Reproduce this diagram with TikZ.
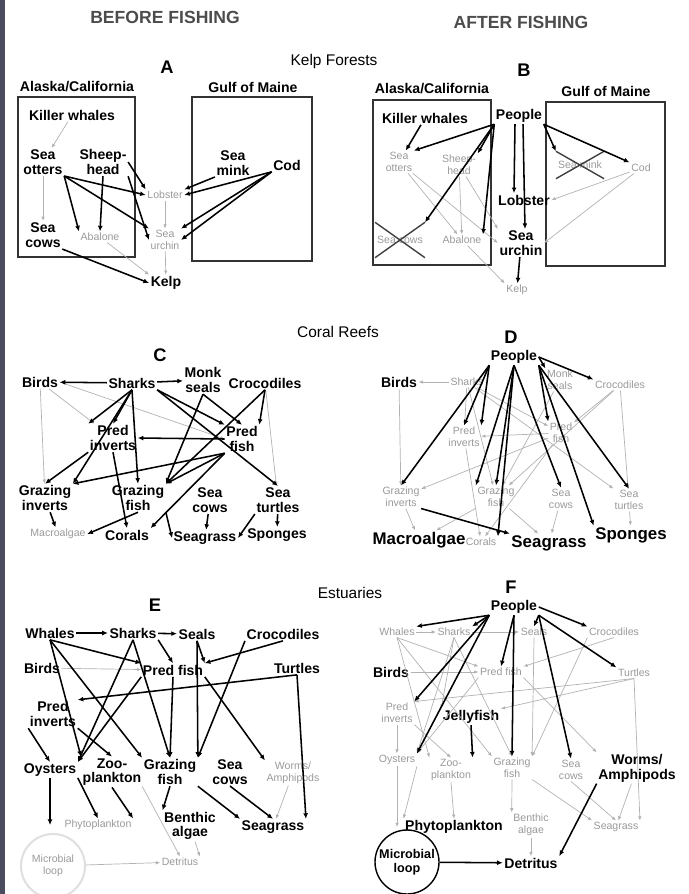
\documentclass[tikz,border=0pt]{standalone}
\usepackage{fontspec}
\setmainfont{Liberation Sans}
\usetikzlibrary{arrows.meta,shapes.misc}
\definecolor{sidebar}{RGB}{75,77,94}

\begin{document}
\begin{tikzpicture}[
    x=0.25mm, y=-0.25mm,
    sp/.style={font=\bfseries\fontsize{10}{10.5}\selectfont, align=center, inner sep=1pt},
    ghost/.style={font=\fontsize{7.5}{8.5}\selectfont, text=black!40, align=center, inner sep=1pt},
    big/.style={font=\bfseries\fontsize{12}{13}\selectfont, inner sep=1pt},
    heading/.style={font=\bfseries\fontsize{12.5}{13}\selectfont, text=black!70},
    habitat/.style={font=\fontsize{11}{12}\selectfont},
    panel/.style={font=\bfseries\fontsize{13}{14}\selectfont},
    region/.style={draw, line width=1pt, black!80},
    gone/.style={ghost, cross out, draw=black!75, line width=1pt},
    feed/.style={-{Latex[length=4pt,width=3.5pt]}, line width=1.1pt},
    weak/.style={-{Latex[length=3pt,width=2.5pt]}, line width=0.5pt, black!30}
]
\useasboundingbox (0,0) rectangle (688,894);
\fill[sidebar] (0,0) rectangle (5,894);

\node[heading] (before) at (165,17) {BEFORE FISHING};
\node[heading] (after) at (521,22) {AFTER FISHING};

% Kelp forests
\node[habitat] (kelpforests) at (334,62) {Kelp Forests};
\node[panel] (labelA) at (167,67) {A};
\node[panel] (labelB) at (524,70) {B};

\node[sp] (akA) at (77,87) {Alaska/California};
\node[sp] (gmA) at (253,87) {Gulf of Maine};
\draw[region] (18,97) rectangle (135,257);
\draw[region] (192,97) rectangle (312,261);

\node[sp] (whaleA) at (72,115) {Killer whales};
\node[sp] (otterA) at (43,162) {Sea\\otters};
\node[sp] (sheepA) at (103,162) {Sheep-\\head};
\node[sp] (minkA) at (233,163) {Sea\\mink};
\node[sp] (codA) at (287,165) {Cod};
\node[ghost] (lobsterA) at (165,195) {Lobster};
\node[ghost] (abaloneA) at (100,237) {Abalone};
\node[ghost] (urchinA) at (165,240) {Sea\\urchin};
\node[sp] (cowA) at (43,235) {Sea\\cows};
\node[sp] (kelpA) at (166,283) {Kelp};

\draw[weak] (whaleA) -- (otterA);
\draw[weak] (otterA) -- (cowA);
\draw[feed] (otterA.south east) -- (abaloneA.north west);
\draw[feed] (otterA.south east) -- (lobsterA.west);
\draw[feed] (otterA.south east) -- (urchinA.north west);
\draw[feed] (sheepA.south) -- (abaloneA.north);
\draw[feed] (sheepA.south east) -- (urchinA.west);
\draw[feed] (sheepA.east) -- (lobsterA.north west);
\draw[feed] (minkA.south west) -- (lobsterA.north east);
\draw[feed] (codA.south west) -- (lobsterA.east);
\draw[feed] (codA.south west) -- (urchinA.north east);
\draw[feed] (codA.south west) -- (urchinA.east);
\draw[weak] (lobsterA) -- (urchinA);
\draw[weak] (abaloneA) -- (kelpA.north west);
\draw[weak] (urchinA) -- (kelpA);
\draw[feed] (cowA.south east) -- (kelpA.west);

\node[sp] (akB) at (432,89) {Alaska/California};
\node[sp] (gmB) at (606,91) {Gulf of Maine};
\draw[region] (373,100) rectangle (491,265);
\draw[region] (546,102) rectangle (665,266);

\node[sp] (whaleB) at (425,118) {Killer whales};
\node[sp] (peopleB) at (519,116) {People};
\node[ghost] (otterB) at (399,162) {Sea\\otters};
\node[ghost] (sheepB) at (459,165) {Sheep-\\head};
\node[gone, minimum width=10.5mm, minimum height=6.5mm] (minkB) at (580,165) {Sea mink};
\node[ghost] (codB) at (641,168) {Cod};
\node[sp] (lobsterB) at (524,200) {Lobster};
\node[gone, minimum width=10.5mm, minimum height=8.5mm] (cowB) at (400,240) {Sea cows};
\node[ghost] (abaloneB) at (462,240) {Abalone};
\node[sp] (urchinB) at (521,243) {Sea\\urchin};
\node[ghost] (kelpB) at (517,290) {Kelp};

\draw[weak] (otterB) -- (urchinB.west);
\draw[weak] (otterB) -- (abaloneB);
\draw[weak] (sheepB) -- (abaloneB);
\draw[weak] (sheepB) -- (urchinB.north west);
\draw[weak] (codB) -- (lobsterB.east);
\draw[weak] (codB) -- (urchinB.east);
\draw[weak] (abaloneB) -- (kelpB.north west);
\draw[feed] (whaleB) -- (otterB);
\draw[feed] (peopleB.south west) -- (otterB.north east);
\draw[feed] (peopleB.south west) -- (sheepB.north east);
\draw[feed] (peopleB.south west) -- (cowB.north east);
\draw[feed] (peopleB.south west) -- (abaloneB.north east);
\draw[feed] ([xshift=-1mm]peopleB.south) -- ([xshift=-2.5mm]lobsterB.north);
\draw[feed] ([xshift=1mm]peopleB.south) -- ([xshift=1mm]urchinB.north);
\draw[feed] (peopleB.south east) -- (minkB.north west);
\draw[feed] (peopleB.south east) -- (codB.north west);
\draw[feed] (urchinB) -- (kelpB);

% Coral reefs
\node[habitat] (coralreefs) at (338,332) {Coral Reefs};
\node[panel] (labelC) at (160,355) {C};
\node[panel] (labelD) at (511,337) {D};

\node[sp] (birdC) at (40,382) {Birds};
\node[sp] (sharkC) at (132,383) {Sharks};
\node[sp] (sealC) at (203,380) {Monk\\seals};
\node[sp] (crocC) at (265,383) {Crocodiles};
\node[sp] (predinvC) at (113,438) {Pred\\inverts};
\node[sp] (predfishC) at (242,439) {Pred\\fish};
\node[sp] (grazinvC) at (45,498) {Grazing\\inverts};
\node[sp] (grazfishC) at (138,498) {Grazing\\fish};
\node[sp] (cowC) at (210,500) {Sea\\cows};
\node[sp] (turtleC) at (278,500) {Sea\\turtles};
\node[ghost] (macroC) at (58,534) {Macroalgae};
\node[sp] (coralC) at (127,535) {Corals};
\node[sp] (seagrassC) at (205,538) {Seagrass};
\node[sp] (spongeC) at (277,535) {Sponges};

\draw[weak] (birdC) -- (grazinvC);
\draw[weak] (birdC) -- (predinvC);
\draw[weak] (crocC) -- (turtleC);
\draw[weak] (birdC.east) -- (predfishC.west);
\draw[feed] (sharkC) -- (birdC);
\draw[feed] (sharkC) -- (sealC);
\draw[feed] (sharkC.south) -- (predinvC.north west);
\draw[feed] (sharkC.south) -- (predinvC.north);
\draw[feed] (sharkC.south) -- (grazinvC.north east);
\draw[feed] (sharkC.south) -- (grazfishC.north);
\draw[feed] (sharkC.south east) -- (predfishC.north west);
\draw[feed] (sharkC.south east) -- (turtleC.north);
\draw[feed] (sealC.south) -- (grazfishC.north east);
\draw[feed] (sealC.south) -- (predfishC.north);
\draw[feed] (crocC.south) -- (predfishC.north east);
\draw[feed] (crocC.south) -- (grazfishC.north east);
\draw[feed] (predfishC.west) -- (predinvC.east);
\draw[feed] (predfishC.south west) -- (grazinvC.north east);
\draw[feed] (predfishC.south west) -- (grazfishC.north east);
\draw[feed] (predfishC.south west) -- (coralC.north east);
\draw[feed] (predinvC.south) -- (coralC.north);
\draw[feed] (predinvC.south west) -- (grazinvC.north);
\draw[feed] (grazinvC) -- (macroC);
\draw[feed] (grazfishC.south) -- (macroC.east);
\draw[feed] (grazfishC.south east) -- (seagrassC.west);
\draw[feed] (cowC) -- (seagrassC);
\draw[feed] (turtleC.south west) -- (seagrassC.east);
\draw[feed] (turtleC) -- (spongeC);

\node[sp] (peopleD) at (514,357) {People};
\node[sp] (birdD) at (399,382) {Birds};
\node[ghost] (sharkD) at (467,382) {Sharks};
\node[ghost] (sealD) at (560,380) {Monk\\seals};
\node[ghost] (crocD) at (620,385) {Crocodiles};
\node[ghost] (predinvD) at (464,437) {Pred\\inverts};
\node[ghost] (predfishD) at (561,433) {Pred\\fish};
\node[ghost] (grazinvD) at (401,497) {Grazing\\inverts};
\node[ghost] (grazfishD) at (496,497) {Grazing\\fish};
\node[ghost] (cowD) at (561,499) {Sea\\cows};
\node[ghost] (turtleD) at (629,500) {Sea\\turtles};
\node[big] (macroD) at (419,540) {Macroalgae};
\node[ghost] (coralD) at (481,542) {Corals};
\node[big] (seagrassD) at (549,543) {Seagrass};
\node[big] (spongeD) at (631,535) {Sponges};

\draw[weak] (sharkD) -- (birdD);
\draw[weak] (birdD) -- (grazinvD);
\draw[weak] (sharkD) -- (predinvD);
\draw[weak] (sharkD) -- (grazfishD);
\draw[weak] (sharkD) -- (predfishD);
\draw[weak] (sharkD) -- (turtleD);
\draw[weak] (sealD) -- (grazfishD);
\draw[weak] (crocD) -- (predfishD);
\draw[weak] (crocD) -- (grazfishD);
\draw[weak] (crocD) -- (turtleD);
\draw[weak] (predfishD) -- (predinvD);
\draw[weak] (predfishD) -- (grazinvD);
\draw[weak] (predfishD) -- (coralD);
\draw[weak] (predinvD) -- (coralD);
\draw[weak] (grazinvD) -- (macroD);
\draw[weak] (grazfishD) -- (macroD);
\draw[weak] (grazfishD) -- (seagrassD);
\draw[weak] (cowD) -- (seagrassD);
\draw[weak] (turtleD) -- (spongeD);
\draw[feed] (peopleD.south west) -- (grazinvD.north);
\draw[feed] (peopleD.south west) -- (predinvD.north);
\draw[feed] (peopleD.south west) -- (predinvD.north east);
\draw[feed] (peopleD.south) -- (grazfishD.north west);
\draw[feed] (peopleD.south) -- (grazfishD.north);
\draw[feed] (peopleD.south) -- (coralD.north east);
\draw[feed] (peopleD.south) -- (cowD.north);
\draw[feed] (peopleD.south east) -- (predfishD.north west);
\draw[feed] (peopleD.south east) -- (turtleD.north);
\draw[feed] (peopleD.south east) -- (spongeD.north west);
\draw[feed] (peopleD.east) -- (sealD.north west);
\draw[feed] (peopleD.east) -- (crocD.north west);
\draw[feed] (grazinvD.south east) -- (seagrassD.north west);

% Estuaries
\node[habitat] (estuaries) at (350,593) {Estuaries};
\node[panel] (labelE) at (155,605) {E};
\node[panel] (labelF) at (511,587) {F};

\node[sp] (whaleE) at (50,633) {Whales};
\node[sp] (sharkE) at (133,633) {Sharks};
\node[sp] (sealE) at (197,634) {Seals};
\node[sp] (crocE) at (283,634) {Crocodiles};
\node[sp] (birdE) at (42,668) {Birds};
\node[sp] (predfishE) at (173,670) {Pred fish};
\node[sp] (turtleE) at (297,668) {Turtles};
\node[sp] (predinvE) at (53,714) {Pred\\inverts};
\node[sp] (oysterE) at (50,770) {Oysters};
\node[sp] (zooE) at (112,772) {Zoo-\\plankton};
\node[sp] (grazfishE) at (170,772) {Grazing\\fish};
\node[sp] (cowE) at (230,772) {Sea\\cows};
\node[ghost] (wormE) at (293,773) {Worms/\\Amphipods};
\node[ghost] (phytoE) at (98,825) {Phytoplankton};
\node[sp] (benthicE) at (190,826) {Benthic\\algae};
\node[sp] (seagrassE) at (273,827) {Seagrass};
\node[ghost, circle, draw=black!12, line width=1.5pt, inner sep=0pt, minimum size=16mm] (microE) at (53,866) {Microbial\\loop};
\node[ghost] (detritusE) at (180,862) {Detritus};

\draw[weak] (birdE) -- (predfishE);
\draw[weak] (wormE) -- (seagrassE);
\draw[weak] (benthicE) -- (detritusE.north east);
\draw[weak] (grazfishE.south west) -- (detritusE.north);
\draw[weak] (microE) -- (detritusE);
\draw[feed] (whaleE) -- (sharkE);
\draw[feed] (sharkE) -- (sealE);
\draw[feed] (whaleE.south) -- (predfishE.north west);
\draw[feed] (whaleE.south) -- (zooE.north west);
\draw[feed] (whaleE.south) -- (grazfishE.north west);
\draw[feed] (sharkE.south) -- (oysterE.north east);
\draw[feed] (sharkE.south) -- (grazfishE.north);
\draw[feed] (sharkE.south east) -- (predfishE.north);
\draw[feed] (sealE.south) -- (predfishE.north east);
\draw[feed] (sealE.south) -- (grazfishE.north east);
\draw[feed] (crocE.south) -- (predfishE.north east);
\draw[feed] (crocE.south west) -- (grazfishE.north east);
\draw[feed] (turtleE.south) -- (predinvE.north east);
\draw[feed] (turtleE.south) -- (seagrassE.north east);
\draw[feed] (predfishE.south west) -- (oysterE.north east);
\draw[feed] (predfishE.south) -- (grazfishE.north);
\draw[feed] (predfishE.south east) -- (wormE.north west);
\draw[feed] (predinvE.south west) -- (oysterE.north);
\draw[feed] (predinvE.south east) -- (zooE.north);
\draw[feed] (grazfishE.south) -- (benthicE.north west);
\draw[feed] (grazfishE.south east) -- (seagrassE.north west);
\draw[feed] (cowE.south) -- (seagrassE.north);
\draw[feed] (oysterE.south) -- (oysterE.south |- phytoE.west);
\draw[feed] (oysterE.south east) -- (phytoE.north);
\draw[feed] (zooE.south) -- (phytoE.north east);

\node[sp] (peopleF) at (514,607) {People};
\node[ghost] (whaleF) at (397,632) {Whales};
\node[ghost] (sharkF) at (454,632) {Sharks};
\node[ghost] (sealF) at (534,632) {Seals};
\node[ghost] (crocF) at (614,632) {Crocodiles};
\node[sp] (birdF) at (391,672) {Birds};
\node[ghost] (predfishF) at (501,672) {Pred fish};
\node[ghost] (turtleF) at (634,673) {Turtles};
\node[ghost] (predinvF) at (397,713) {Pred\\inverts};
\node[sp] (jellyF) at (471,717) {Jellyfish};
\node[ghost] (oysterF) at (397,760) {Oysters};
\node[ghost] (zooF) at (451,770) {Zoo-\\plankton};
\node[ghost] (grazfishF) at (512,768) {Grazing\\fish};
\node[ghost] (cowF) at (571,770) {Sea\\cows};
\node[sp] (wormF) at (637,768) {Worms/\\Amphipods};
\node[sp] (phytoF) at (454,827) {Phytoplankton};
\node[ghost] (benthicF) at (531,825) {Benthic\\algae};
\node[ghost] (seagrassF) at (616,827) {Seagrass};
\node[sp, circle, draw, line width=1pt, inner sep=0pt, minimum size=16mm, font=\bfseries\fontsize{9}{10}\selectfont] (microF) at (407,862) {Microbial\\loop};
\node[sp] (detritusF) at (531,863) {Detritus};

\draw[weak] (whaleF) -- (sharkF);
\draw[weak] (sharkF) -- (sealF);
\draw[weak] (whaleF.south) -- (predfishF.north west);
\draw[weak] (whaleF.south) -- (zooF.north west);
\draw[weak] (whaleF.south) -- (grazfishF.north west);
\draw[weak] (sharkF.south) -- (oysterF.north east);
\draw[weak] (sharkF.south) -- (grazfishF.north);
\draw[weak] (sharkF.south) -- (jellyF.north west);
\draw[weak] (sealF.south) -- (grazfishF.north east);
\draw[weak] (crocF.south) -- (predfishF.north east);
\draw[weak] (crocF.south west) -- (grazfishF.north east);
\draw[weak] (birdF) -- (predfishF);
\draw[weak] (turtleF.south) -- (predinvF.north east);
\draw[weak] (turtleF.south) -- (jellyF.north east);
\draw[weak] (turtleF.south) -- (seagrassF.north east);
\draw[weak] (predfishF.south west) -- (oysterF.north east);
\draw[weak] (predfishF.south east) -- (wormF.north west);
\draw[weak] (predinvF.south) -- (oysterF.north);
\draw[weak] (predinvF.south east) -- (zooF.north);
\draw[weak] (grazfishF.south) -- (benthicF.north west);
\draw[weak] (grazfishF.south east) -- (seagrassF.north west);
\draw[weak] (cowF.south) -- (seagrassF.north);
\draw[weak] (oysterF.south) -- (oysterF.south |- phytoF.west);
\draw[weak] (oysterF.south east) -- (phytoF.north west);
\draw[weak] (zooF.south) -- (phytoF.north);
\draw[weak] (wormF) -- (seagrassF);
\draw[weak] (benthicF) -- (detritusF);
\draw[feed] (peopleF.south west) -- (whaleF.north east);
\draw[feed] (peopleF.south west) -- (sharkF.north east);
\draw[feed] (peopleF.south west) -- (predinvF.north east);
\draw[feed] (peopleF.south west) -- (oysterF.north east);
\draw[feed] (peopleF.south) -- (predfishF.north);
\draw[feed] (peopleF.south) -- (grazfishF.north);
\draw[feed] (peopleF.south east) -- (sealF.north);
\draw[feed] (peopleF.south east) -- (cowF.north);
\draw[feed] (peopleF.east) -- (crocF.north west);
\draw[feed] (peopleF.south east) -- (turtleF.north west);
\draw[feed] (jellyF.south) -- (zooF.north east);
\draw[feed] (wormF.south west) -- (detritusF.north east);
\draw[feed] (microF) -- (detritusF);

\end{tikzpicture}
\end{document}
